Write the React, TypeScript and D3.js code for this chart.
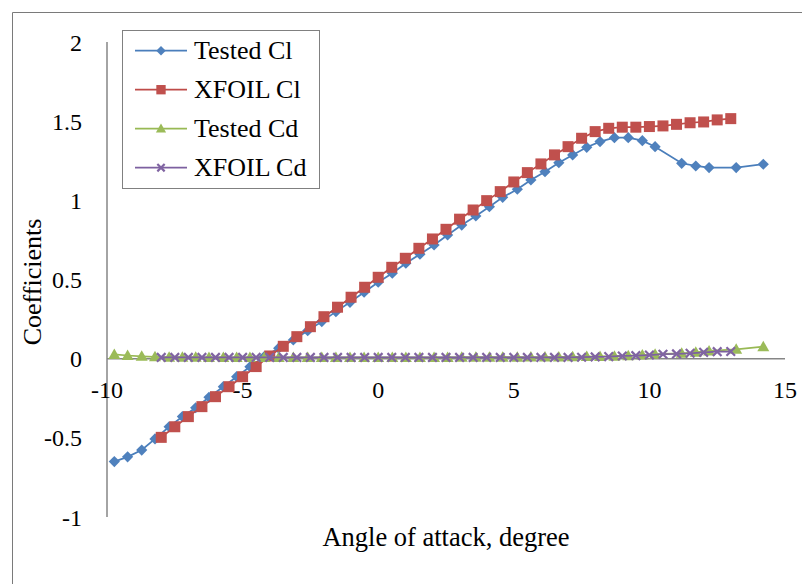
import React from 'react';
import * as d3 from 'd3';

const testedAoA = [-9.73, -9.24, -8.72, -8.23, -7.71, -7.22, -6.73, -6.24, -5.71, -5.22, -4.73, -4.2, -3.67, -3.13, -2.6, -2.08, -1.56, -1.04, -0.52, 0.0, 0.52, 1.02, 1.54, 2.06, 2.56, 3.08, 3.6, 4.1, 4.59, 5.13, 5.63, 6.15, 6.66, 7.17, 7.69, 8.18, 8.71, 9.22, 9.74, 10.21, 11.19, 11.71, 12.2, 13.2, 14.2];
const testedCl = [-0.65, -0.62, -0.577, -0.507, -0.43, -0.366, -0.31, -0.244, -0.177, -0.114, -0.051, 0.013, 0.066, 0.118, 0.177, 0.234, 0.297, 0.356, 0.42, 0.483, 0.54, 0.603, 0.66, 0.718, 0.781, 0.844, 0.901, 0.96, 1.019, 1.07, 1.129, 1.181, 1.238, 1.287, 1.335, 1.371, 1.396, 1.396, 1.377, 1.339, 1.234, 1.217, 1.207, 1.207, 1.228];
const testedCd = [0.027, 0.02, 0.015, 0.012, 0.009, 0.009, 0.009, 0.008, 0.008, 0.008, 0.008, 0.008, 0.008, 0.008, 0.008, 0.008, 0.008, 0.008, 0.008, 0.008, 0.008, 0.008, 0.008, 0.008, 0.008, 0.009, 0.009, 0.009, 0.009, 0.009, 0.01, 0.01, 0.011, 0.012, 0.013, 0.014, 0.016, 0.019, 0.023, 0.028, 0.034, 0.04, 0.049, 0.059, 0.076];

const xfoilAoA = [-8, -7.5, -7, -6.5, -6, -5.5, -5, -4.5, -4, -3.5, -3, -2.5, -2, -1.5, -1, -0.5, 0, 0.5, 1, 1.5, 2, 2.5, 3, 3.5, 4, 4.5, 5, 5.5, 6, 6.5, 7, 7.5, 8, 8.5, 9, 9.5, 10, 10.5, 11, 11.5, 12, 12.5, 13];
const xfoilCl = [-0.497, -0.43, -0.366, -0.303, -0.24, -0.177, -0.114, -0.05, 0.017, 0.078, 0.139, 0.202, 0.265, 0.325, 0.388, 0.451, 0.514, 0.577, 0.634, 0.697, 0.756, 0.817, 0.881, 0.939, 0.998, 1.055, 1.116, 1.175, 1.23, 1.287, 1.339, 1.392, 1.434, 1.455, 1.462, 1.462, 1.466, 1.47, 1.48, 1.49, 1.495, 1.508, 1.516];
const xfoilCd = [0.008, 0.008, 0.008, 0.008, 0.008, 0.008, 0.008, 0.008, 0.008, 0.008, 0.008, 0.008, 0.008, 0.008, 0.008, 0.008, 0.008, 0.008, 0.008, 0.008, 0.008, 0.008, 0.008, 0.008, 0.008, 0.008, 0.008, 0.008, 0.008, 0.008, 0.008, 0.009, 0.011, 0.013, 0.017, 0.019, 0.023, 0.028, 0.03, 0.034, 0.04, 0.044, 0.045];

const xTicks = [-10, -5, 0, 5, 10, 15];
const yTicks = [-1, -0.5, 0, 0.5, 1, 1.5, 2];
const seriesNames = ['Tested Cl', 'XFOIL Cl', 'Tested Cd', 'XFOIL Cd'];
const xTitle = 'Angle of attack, degree';
const yTitle = 'Coefficients';

const FONT = '"Liberation Serif", "Times New Roman", serif';
const AXIS = '#868686';

type Shape = 'diamond' | 'square' | 'triangle' | 'cross';
const styles: { line: string; fill: string; shape: Shape }[] = [
  { line: '#4A7EBB', fill: '#4F81BD', shape: 'diamond' },
  { line: '#BE4B48', fill: '#C0504D', shape: 'square' },
  { line: '#98B954', fill: '#9BBB59', shape: 'triangle' },
  { line: '#7D60A0', fill: '#8064A2', shape: 'cross' },
];

function Marker({ shape, x, y, color, s = 1 }: { shape: Shape; x: number; y: number; color: string; s?: number }) {
  if (shape === 'diamond') {
    const r = 5.6 * s;
    return <path d={`M${x},${y - r}L${x + r},${y}L${x},${y + r}L${x - r},${y}Z`} fill={color} />;
  }
  if (shape === 'square') {
    const r = 5.5 * s;
    return <rect x={x - r} y={y - r} width={2 * r} height={2 * r} fill={color} />;
  }
  if (shape === 'triangle') {
    const r = 6 * s;
    return <path d={`M${x},${y - r}L${x + r},${y + r * 0.75}L${x - r},${y + r * 0.75}Z`} fill={color} />;
  }
  const r = 4.3 * s;
  return (
    <path d={`M${x - r},${y - r}L${x + r},${y + r}M${x - r},${y + r}L${x + r},${y - r}`} stroke={color} strokeWidth={2.2} fill="none" />
  );
}

export default function App() {
  const W = 802;
  const H = 584;
  const x = d3.scaleLinear().domain([-10, 15]).range([107, 785]);
  const y = d3.scaleLinear().domain([-1, 2]).range([517, 42]);

  const series = [
    { xs: testedAoA, ys: testedCl },
    { xs: xfoilAoA, ys: xfoilCl },
    { xs: testedAoA, ys: testedCd },
    { xs: xfoilAoA, ys: xfoilCd },
  ];

  const line = d3
    .line<[number, number]>()
    .x((d) => x(d[0]))
    .y((d) => y(d[1]));

  return (
    <svg width={W} height={H} style={{ position: 'absolute', left: 0, top: 0, background: '#fff' }} fontFamily={FONT}>
      <rect x={0} y={0} width={W} height={H} fill="#fff" />
      {/* outer frame */}
      <path d={`M12.5,${H}V12.5H${W}`} fill="none" stroke="#7a7a7a" strokeWidth={1} />

      {/* axes */}
      <line x1={x(-10)} x2={x(-10)} y1={y(2)} y2={y(-1)} stroke={AXIS} strokeWidth={1.5} />
      <line x1={x(-10)} x2={x(15)} y1={y(0)} y2={y(0)} stroke={AXIS} strokeWidth={1.5} />

      {/* y tick labels */}
      {yTicks.map((t) => (
        <text key={t} x={82} y={y(t)} dy="0.36em" textAnchor="end" fontSize={24} fill="#000">
          {String(t)}
        </text>
      ))}
      {/* x tick labels */}
      {xTicks.map((t) => (
        <text key={t} x={x(t)} y={398} textAnchor="middle" fontSize={24} fill="#000">
          {String(t)}
        </text>
      ))}

      {/* series */}
      {series.map((s, i) => {
        const pts: [number, number][] = s.xs.map((v, j) => [v, s.ys[j]]);
        return (
          <g key={i}>
            <path d={line(pts) || ''} fill="none" stroke={styles[i].line} strokeWidth={1.75} />
            {pts.map((p, j) => (
              <Marker key={j} shape={styles[i].shape} x={x(p[0])} y={y(p[1])} color={styles[i].fill} />
            ))}
          </g>
        );
      })}

      {/* axis titles */}
      <text x={446} y={546} textAnchor="middle" fontSize={26.5} fill="#000">
        {xTitle}
      </text>
      <text transform={`translate(41,282) rotate(-90)`} textAnchor="middle" fontSize={26} fill="#000">
        {yTitle}
      </text>

      {/* legend */}
      <rect x={122.5} y={30.5} width={197} height={158} fill="#fff" stroke="#808080" strokeWidth={1} />
      {seriesNames.map((n, i) => {
        const cy = 50.7 + i * 39;
        return (
          <g key={n}>
            <line x1={135} x2={187} y1={cy} y2={cy} stroke={styles[i].line} strokeWidth={1.75} />
            <Marker shape={styles[i].shape} x={161} y={cy} color={styles[i].fill} s={0.85} />
            <text x={194} y={cy + 8.6} fontSize={26} fill="#000">
              {n}
            </text>
          </g>
        );
      })}
    </svg>
  );
}
